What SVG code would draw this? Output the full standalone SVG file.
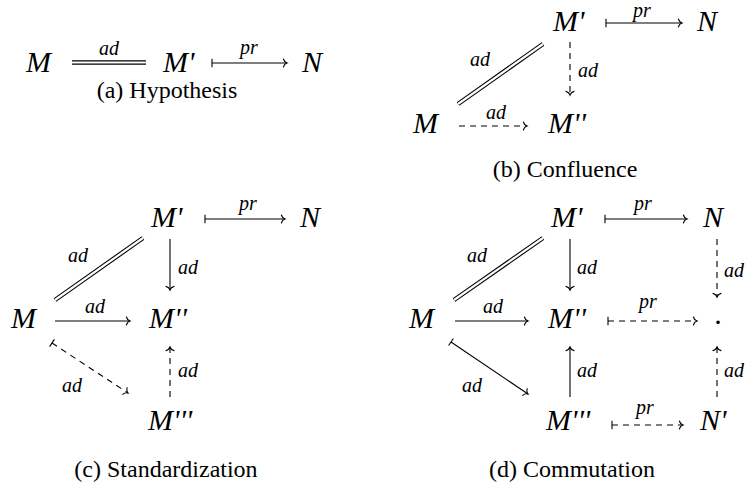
<svg xmlns="http://www.w3.org/2000/svg" width="748" height="491" viewBox="0 0 748 491">
<g id="a-M"><text font-family="Liberation Serif" font-style="italic" font-size="30" x="26" y="72">M</text></g>
<g id="a-M1"><text font-family="Liberation Serif" font-style="italic" font-size="30" x="163" y="72">M'</text></g>
<g id="a-N"><text font-family="Liberation Serif" font-style="italic" font-size="30" x="302" y="72">N</text></g>
<text font-family="Liberation Serif" font-size="24" text-anchor="middle" x="167" y="98">(a) Hypothesis</text>
<g id="b-M1"><text font-family="Liberation Serif" font-style="italic" font-size="30" x="553" y="31">M'</text></g>
<g id="b-N"><text font-family="Liberation Serif" font-style="italic" font-size="30" x="697" y="31">N</text></g>
<g id="b-M"><text font-family="Liberation Serif" font-style="italic" font-size="30" x="413" y="133">M</text></g>
<g id="b-M2"><text font-family="Liberation Serif" font-style="italic" font-size="30" x="548" y="133">M''</text></g>
<text font-family="Liberation Serif" font-size="24" text-anchor="middle" x="565" y="177">(b) Confluence</text>
<g id="c-M1"><text font-family="Liberation Serif" font-style="italic" font-size="30" x="151" y="227">M'</text></g>
<g id="c-N"><text font-family="Liberation Serif" font-style="italic" font-size="30" x="300" y="227">N</text></g>
<g id="c-M"><text font-family="Liberation Serif" font-style="italic" font-size="30" x="11" y="328">M</text></g>
<g id="c-M2"><text font-family="Liberation Serif" font-style="italic" font-size="30" x="149" y="328">M''</text></g>
<g id="c-M3"><text font-family="Liberation Serif" font-style="italic" font-size="30" x="148" y="430">M'''</text></g>
<text font-family="Liberation Serif" font-size="24" text-anchor="middle" x="166" y="477">(c) Standardization</text>
<g id="d-M1"><text font-family="Liberation Serif" font-style="italic" font-size="30" x="551" y="227">M'</text></g>
<g id="d-N"><text font-family="Liberation Serif" font-style="italic" font-size="30" x="703" y="227">N</text></g>
<g id="d-M"><text font-family="Liberation Serif" font-style="italic" font-size="30" x="409" y="328">M</text></g>
<g id="d-M2"><text font-family="Liberation Serif" font-style="italic" font-size="30" x="548" y="328">M''</text></g>
<g id="d-dot"><text font-family="Liberation Serif" font-size="30" text-anchor="middle" x="718" y="324">.</text></g>
<g id="d-M3"><text font-family="Liberation Serif" font-style="italic" font-size="30" x="546" y="430">M'''</text></g>
<g id="d-N1"><text font-family="Liberation Serif" font-style="italic" font-size="30" x="700" y="430">N'</text></g>
<text font-family="Liberation Serif" font-size="24" text-anchor="middle" x="572" y="477">(d) Commutation</text>
<g id="connectors" fill="none" stroke="#000" stroke-width="1.1">
<path d="M72,62.5 H146" stroke-width="4.4"/><path d="M72,62.5 H146" stroke="#fff" stroke-width="2.2"/>
<path d="M458,104 L543,44" stroke-width="4.4"/><path d="M458,104 L543,44" stroke="#fff" stroke-width="2.2"/>
<path d="M55,300 L143,238" stroke-width="4.4"/><path d="M55,300 L143,238" stroke="#fff" stroke-width="2.2"/>
<path d="M454,300 L543,238" stroke-width="4.4"/><path d="M454,300 L543,238" stroke="#fff" stroke-width="2.2"/>
<path d="M212,63 H287 M606,23 H682 M205,219 H285 M170,239 V290 M55,321 H130 M605,219 H687 M570,239 V290 M455,321 H528 M451,342 L528,394 M570,397 V347"/>
<path stroke-dasharray="6 5" d="M570,42 V95 M459,126 H527 M52,343 L128,393 M170,397 V347 M717,239 V297 M608,321 H697 M717,397 V347 M612,425 H683"/>
<path stroke-linecap="round" d="M283.4,59 C284,61.4 285.8,62.6 287,63 C285.8,63.4 284,64.6 283.4,67 M678.4,19 C679,21.4 680.8,22.6 682,23 C680.8,23.4 679,24.6 678.4,27 M523.4,122 C524,124.4 525.8,125.6 527,126 C525.8,126.4 524,127.6 523.4,130 M281.4,215 C282,217.4 283.8,218.6 285,219 C283.8,219.4 282,220.6 281.4,223 M126.4,317 C127,319.4 128.8,320.6 130,321 C128.8,321.4 127,322.6 126.4,325 M683.4,215 C684,217.4 685.8,218.6 687,219 C685.8,219.4 684,220.6 683.4,223 M524.4,317 C525,319.4 526.8,320.6 528,321 C526.8,321.4 525,322.6 524.4,325 M693.4,317 C694,319.4 695.8,320.6 697,321 C695.8,321.4 694,322.6 693.4,325 M679.4,421 C680,423.4 681.8,424.6 683,425 C681.8,425.4 680,426.6 679.4,429"/>
<path stroke-linecap="round" d="M574,91.4 C571.6,92 570.4,93.8 570,95 C569.6,93.8 568.4,92 566,91.4 M174,286.4 C171.6,287 170.4,288.8 170,290 C169.6,288.8 168.4,287 166,286.4 M721,293.4 C718.6,294 717.4,295.8 717,297 C716.6,295.8 715.4,294 713,293.4 M574,286.4 C571.6,287 570.4,288.8 570,290 C569.6,288.8 568.4,287 566,286.4"/>
<path stroke-linecap="round" d="M166,350.6 C168.4,350 169.6,348.2 170,347 C170.4,348.2 171.6,350 174,350.6 M566,350.6 C568.4,350 569.6,348.2 570,347 C570.4,348.2 571.6,350 574,350.6 M713,350.6 C715.4,350 716.6,348.2 717,347 C717.4,348.2 718.6,350 721,350.6"/>
<path stroke-linecap="round" d="M127.19,387.68 C126.37,390.01 127.22,392.01 128,393 C126.78,392.67 124.62,392.69 122.8,394.36 M527.26,388.67 C526.41,391 527.23,393 528,394 C526.78,393.66 524.62,393.65 522.78,395.3"/>
<path d="M212,58.7 V67.3 M606,18.7 V27.3 M205,214.7 V223.3 M605,214.7 V223.3 M608,316.7 V325.3 M612,420.7 V429.3 M54.36,339.41 L49.64,346.59 M453.41,338.44 L448.59,345.56"/>
</g>
<g id="labels">
<text font-family="Liberation Serif" font-style="italic" font-size="20" text-anchor="middle" x="109" y="55">ad</text>
<text font-family="Liberation Serif" font-style="italic" font-size="20" text-anchor="middle" x="249" y="54">pr</text>
<text font-family="Liberation Serif" font-style="italic" font-size="20" text-anchor="middle" x="642" y="17">pr</text>
<text font-family="Liberation Serif" font-style="italic" font-size="20" x="470" y="66">ad</text>
<text font-family="Liberation Serif" font-style="italic" font-size="20" x="578" y="77">ad</text>
<text font-family="Liberation Serif" font-style="italic" font-size="20" text-anchor="middle" x="496" y="119">ad</text>
<text font-family="Liberation Serif" font-style="italic" font-size="20" text-anchor="middle" x="248" y="210">pr</text>
<text font-family="Liberation Serif" font-style="italic" font-size="20" x="68" y="262">ad</text>
<text font-family="Liberation Serif" font-style="italic" font-size="20" x="178" y="274">ad</text>
<text font-family="Liberation Serif" font-style="italic" font-size="20" text-anchor="middle" x="95" y="313">ad</text>
<text font-family="Liberation Serif" font-style="italic" font-size="20" x="62" y="392">ad</text>
<text font-family="Liberation Serif" font-style="italic" font-size="20" x="178" y="377">ad</text>
<text font-family="Liberation Serif" font-style="italic" font-size="20" text-anchor="middle" x="643" y="210">pr</text>
<text font-family="Liberation Serif" font-style="italic" font-size="20" x="724" y="277">ad</text>
<text font-family="Liberation Serif" font-style="italic" font-size="20" x="467" y="262">ad</text>
<text font-family="Liberation Serif" font-style="italic" font-size="20" x="577" y="274">ad</text>
<text font-family="Liberation Serif" font-style="italic" font-size="20" text-anchor="middle" x="493" y="313">ad</text>
<text font-family="Liberation Serif" font-style="italic" font-size="20" text-anchor="middle" x="648" y="308">pr</text>
<text font-family="Liberation Serif" font-style="italic" font-size="20" x="462" y="392">ad</text>
<text font-family="Liberation Serif" font-style="italic" font-size="20" x="577" y="377">ad</text>
<text font-family="Liberation Serif" font-style="italic" font-size="20" x="724" y="377">ad</text>
<text font-family="Liberation Serif" font-style="italic" font-size="20" text-anchor="middle" x="645" y="414">pr</text>
</g>
</svg>
